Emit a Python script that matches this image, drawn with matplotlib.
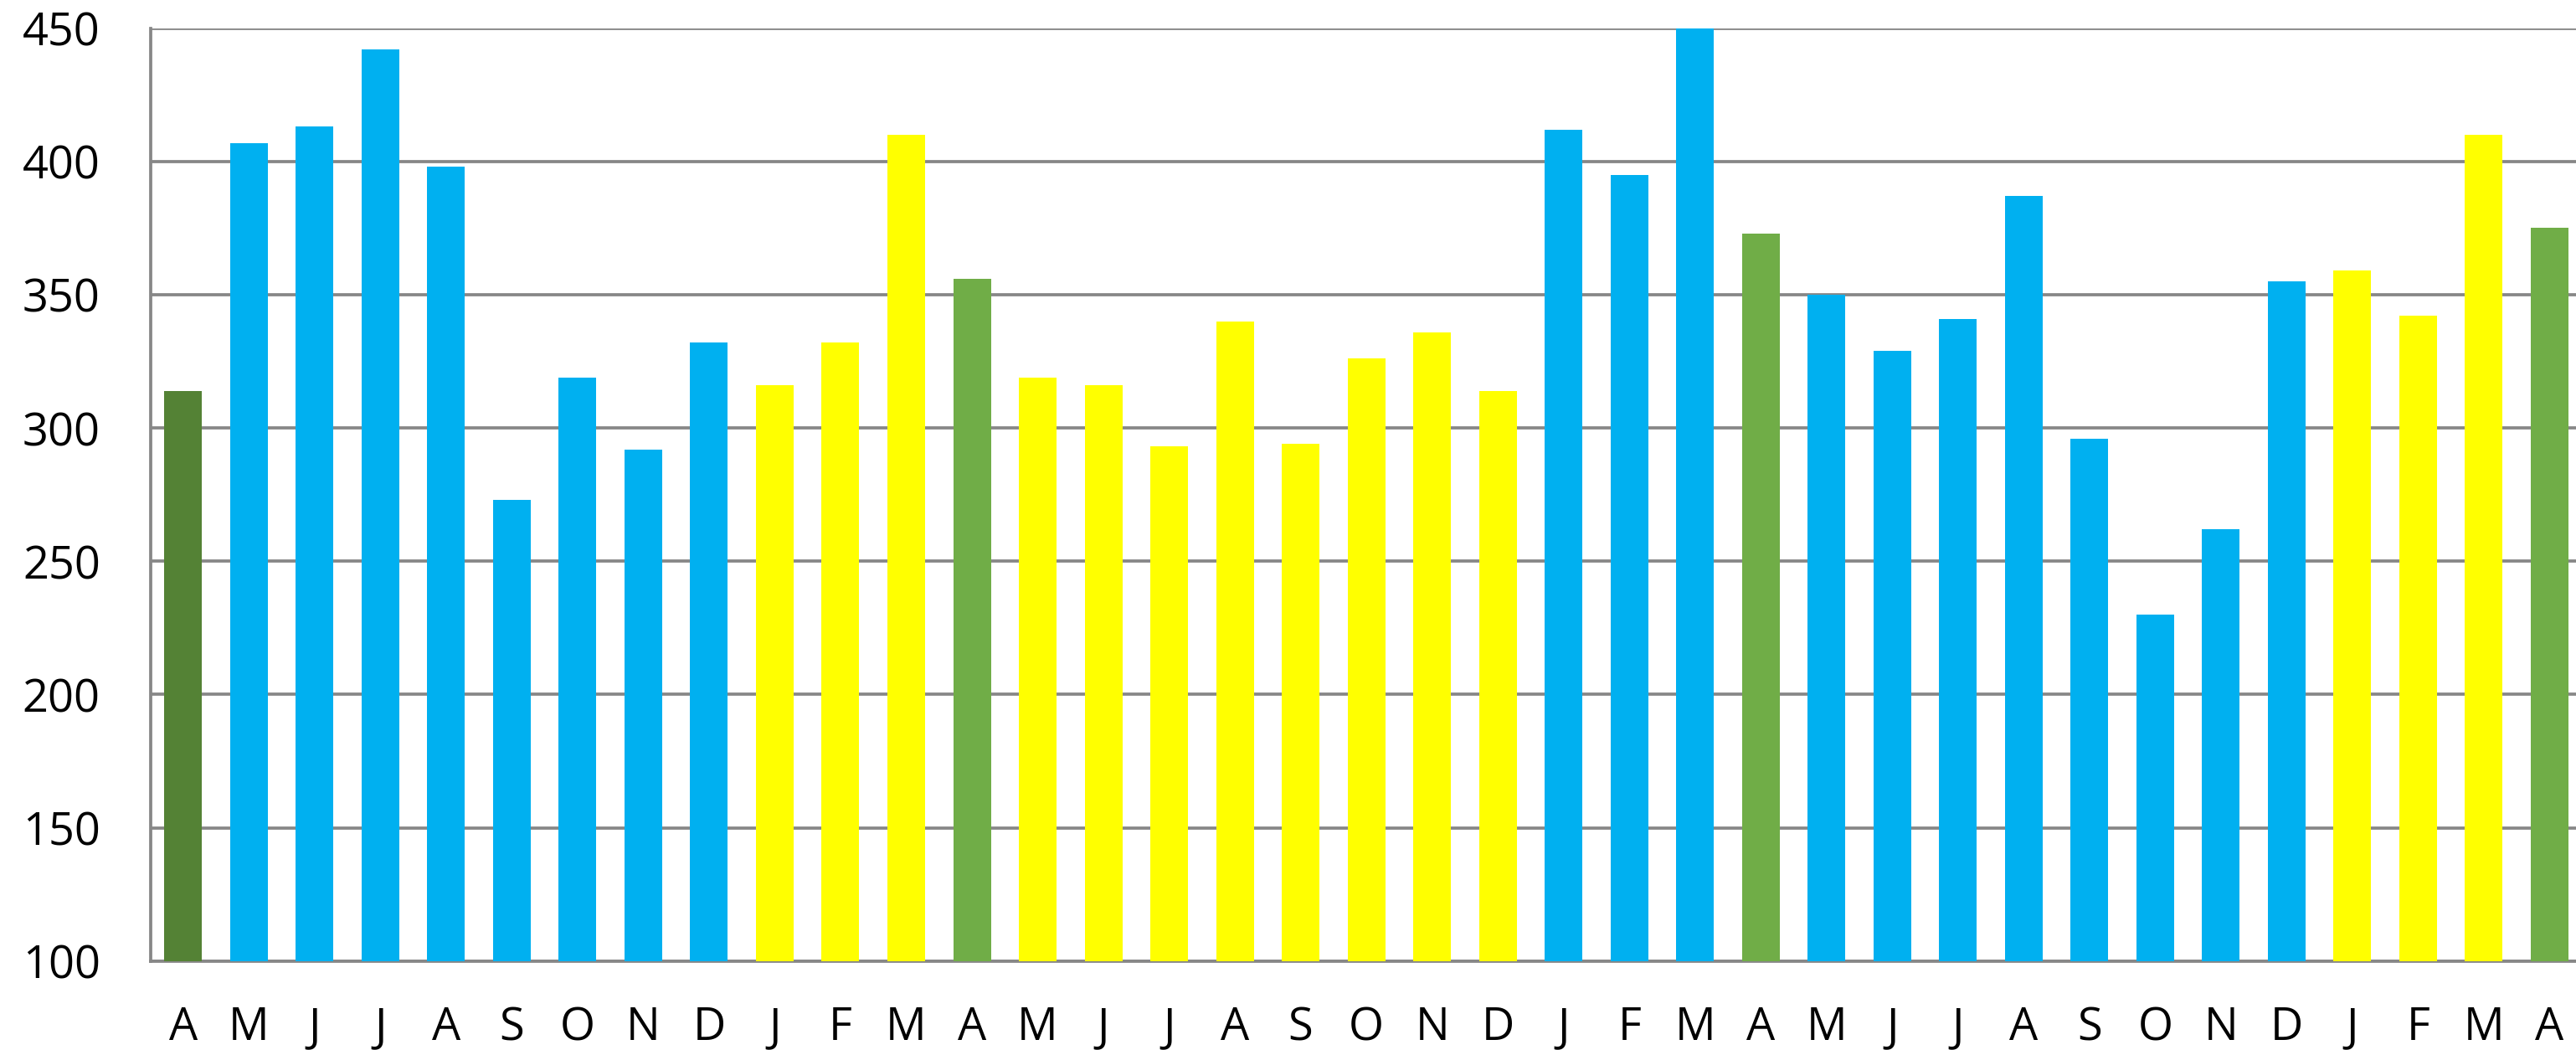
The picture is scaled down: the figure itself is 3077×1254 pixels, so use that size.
import matplotlib.pyplot as plt

# Monthly values, Apr .. Apr (37 bars)
months = ["A", "M", "J", "J", "A", "S", "O", "N", "D", "J", "F", "M",
          "A", "M", "J", "J", "A", "S", "O", "N", "D", "J", "F", "M",
          "A", "M", "J", "J", "A", "S", "O", "N", "D", "J", "F", "M", "A"]
values = [314, 407, 413, 442, 398, 273, 319, 292, 332, 316, 332, 410,
          356, 319, 316, 293, 340, 294, 326, 336, 314, 412, 395, 455,
          373, 350, 329, 341, 387, 296, 230, 262, 355, 359, 342, 410, 375]
# season group of each bar
groups = ["first", "blue", "blue", "blue", "blue", "blue", "blue", "blue", "blue",
          "yellow", "yellow", "yellow",
          "green", "yellow", "yellow", "yellow", "yellow", "yellow", "yellow", "yellow", "yellow",
          "blue", "blue", "blue",
          "green", "blue", "blue", "blue", "blue", "blue", "blue", "blue", "blue",
          "yellow", "yellow", "yellow", "green"]
palette = {"first": "#548235", "blue": "#00B0F0", "yellow": "#FFFF00", "green": "#70AD47"}
yticks = [100, 150, 200, 250, 300, 350, 400, 450]

plt.rcParams['font.family'] = ['Open Sans', 'DejaVu Sans']

fig = plt.figure(figsize=(30.77, 12.54), dpi=100)
ax = fig.add_axes([0.05834, 0.08477, 0.94418, 0.88836])

x = range(len(values))
ax.bar(x, [v - 100 for v in values], bottom=100, width=0.573,
       color=[palette[g] for g in groups], zorder=3)

ax.set_ylim(100, 450)
ax.set_xlim(-0.5, len(values) - 0.5)
ax.set_yticks(yticks)
ax.set_xticks(list(x))
ax.set_xticklabels(months)

grey = "#878787"
ax.grid(axis="y", color=grey, linewidth=2.7, zorder=0)
ax.set_axisbelow(True)
for side in ["top", "right"]:
    ax.spines[side].set_visible(False)
for side in ["left", "bottom"]:
    ax.spines[side].set_color(grey)
    ax.spines[side].set_linewidth(2.7)

ax.tick_params(axis="both", length=0, labelsize=39, colors="black")
ax.tick_params(axis="y", pad=43)
ax.tick_params(axis="x", pad=38)

plt.savefig("out.png", dpi=100)
